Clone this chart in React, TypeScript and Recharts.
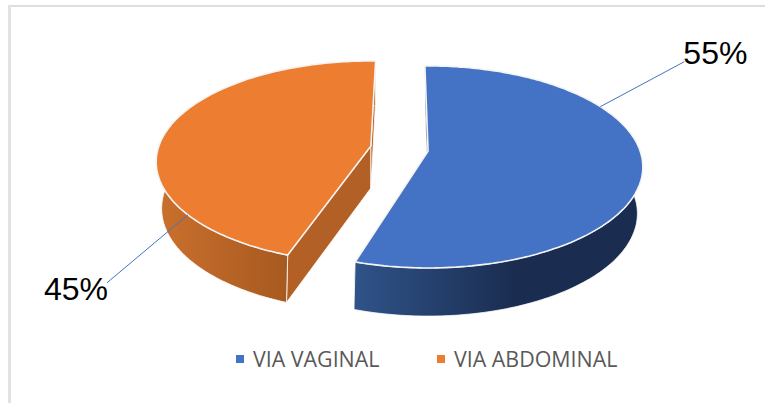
import { PieChart, Pie, Legend } from 'recharts';

const categories = ['VIA VAGINAL', 'VIA ABDOMINAL'];
const shares = [55, 45];

const topColors = ['#4472c4', '#ed7d31'];
const cutColors = ['#1a2c50', '#b26025'];
const wallStops = [
  [['0', '#2f5389'], ['0.57', '#1a2c4f'], ['1', '#1a2c4f']],
  [['0', '#cb702e'], ['0.61', '#a6591f'], ['1', '#a6591f']],
];
const sliceTurn = [-1, 1.5];
const leaderAngle = [61, 231];
const leaderEnd = [[84, -45], [-81, 68]];
const labelOffset = [[83, -43], [-144, 85]];

const pieData = categories.map((name, i) => ({ name, value: shares[i], fill: topColors[i] }));

const EXPLODE = 29;
const SQUASH = 0.4646;
const rad = (d: number) => (d * Math.PI) / 180;

// fake perspective: the top and bottom rims are a projected circle
function topRim(ax: number, ay: number, r: number, theta: number) {
  const u = Math.sin(rad(theta));
  const v = Math.cos(rad(theta));
  const w = 1 + 0.158 * v;
  return [ax + (r * u) / w, ay - (r * SQUASH * v) / w];
}

function bottomRim(ax: number, ay: number, r: number, theta: number) {
  const u = Math.sin(rad(theta));
  const v = Math.cos(rad(theta));
  const w = 1 + 0.2 * v;
  return [ax + (r * 0.967 * u) / w, ay + 42 - (r * SQUASH * v) / w];
}

function sweep(fn: typeof topRim, ax: number, ay: number, r: number, from: number, to: number) {
  const pts: number[][] = [];
  const steps = Math.ceil(Math.abs(to - from));
  for (let i = 0; i <= steps; i++) pts.push(fn(ax, ay, r, from + ((to - from) * i) / steps));
  return pts;
}

const toPath = (pts: number[][]) =>
  'M' + pts.map((p) => `${p[0].toFixed(1)},${p[1].toFixed(1)}`).join('L') + 'Z';

function apexOf(cx: number, cy: number, midAngle: number) {
  return [cx + EXPLODE * Math.cos(rad(midAngle)), cy - EXPLODE * Math.sin(rad(midAngle)) * 0.55];
}

function Slice3D(props: any) {
  const { cx, cy, outerRadius: r, startAngle, endAngle, midAngle, index } = props;
  const turn = sliceTurn[index];
  const from = 90 - startAngle + turn;
  const to = 90 - endAngle + turn;
  const [ax, ay] = apexOf(cx, cy, midAngle);
  const apexLow = [ax, ay + 42];
  const gradId = `wall-${index}`;

  const cut = (theta: number) =>
    toPath([[ax, ay], topRim(ax, ay, r, theta), bottomRim(ax, ay, r, theta), apexLow]);
  const wall = [...sweep(topRim, ax, ay, r, from, to), ...sweep(bottomRim, ax, ay, r, to, from)];
  const face = [[ax, ay], ...sweep(topRim, ax, ay, r, from, to)];

  return (
    <g>
      <defs>
        <linearGradient id={gradId} x1="0" y1="0" x2="1" y2="0">
          {wallStops[index].map(([offset, color]) => (
            <stop key={offset} offset={offset} stopColor={color} />
          ))}
        </linearGradient>
      </defs>
      <path d={cut(from)} fill={cutColors[index]} stroke="#fff" strokeWidth={0.8} />
      <path d={cut(to)} fill={cutColors[index]} stroke="#fff" strokeWidth={0.8} />
      <path d={toPath(wall)} fill={`url(#${gradId})`} stroke="#fff" strokeWidth={0.8} />
      <path d={toPath(face)} fill={topColors[index]} stroke="#f4f4f4" strokeWidth={1.6} strokeLinejoin="round" />
    </g>
  );
}

function SliceLabel(props: any) {
  const { cx, cy, outerRadius: r, midAngle, index, percent } = props;
  const [ax, ay] = apexOf(cx, cy, midAngle);
  const [x, y] = topRim(ax, ay, r, leaderAngle[index]);
  return (
    <g>
      <line
        x1={x}
        y1={y}
        x2={x + leaderEnd[index][0]}
        y2={y + leaderEnd[index][1]}
        stroke="#4472c4"
        strokeWidth={1}
      />
      <text
        x={x + labelOffset[index][0]}
        y={y + labelOffset[index][1]}
        fontFamily="Liberation Sans"
        fontSize={32}
        fill="#000"
        textAnchor="start"
      >
        {`${Math.round(percent * 100)}%`}
      </text>
    </g>
  );
}

function LegendRow({ payload }: any) {
  return (
    <div style={{ display: 'flex', fontFamily: 'Open Sans', fontSize: 21.4, color: '#595959', lineHeight: '26px' }}>
      {(payload || []).map((item: any, i: number) => (
        <div key={item.value} style={{ display: 'flex', alignItems: 'center', width: i === 0 ? 201 : 190 }}>
          <span style={{ width: 8, height: 8, background: item.color, marginRight: 9 }} />
          <span>{item.value}</span>
        </div>
      ))}
    </div>
  );
}

export default function App() {
  return (
    <div style={{ position: 'absolute', left: 0, top: 0, width: 765, height: 403, background: '#fff' }}>
      <div style={{ position: 'absolute', left: 8, top: 5, right: 0, height: 2, background: '#dedede' }} />
      <div style={{ position: 'absolute', left: 8, top: 5, bottom: 0, width: 3, background: '#e2e2e2' }} />
      <PieChart width={765} height={403} margin={{ top: 0, right: 0, bottom: 0, left: 0 }}>
        <Pie
          data={pieData}
          dataKey="value"
          nameKey="name"
          cx={399.5}
          cy={148.5}
          outerRadius={212}
          startAngle={90}
          endAngle={-270}
          isAnimationActive={false}
          shape={Slice3D}
          label={SliceLabel}
          labelLine={false}
        />
        <Legend
          content={LegendRow}
          layout="horizontal"
          align="center"
          verticalAlign="bottom"
          itemSorter={null}
          wrapperStyle={{ position: 'absolute', left: 236, top: 346, bottom: 'auto', width: 420 }}
        />
      </PieChart>
    </div>
  );
}
